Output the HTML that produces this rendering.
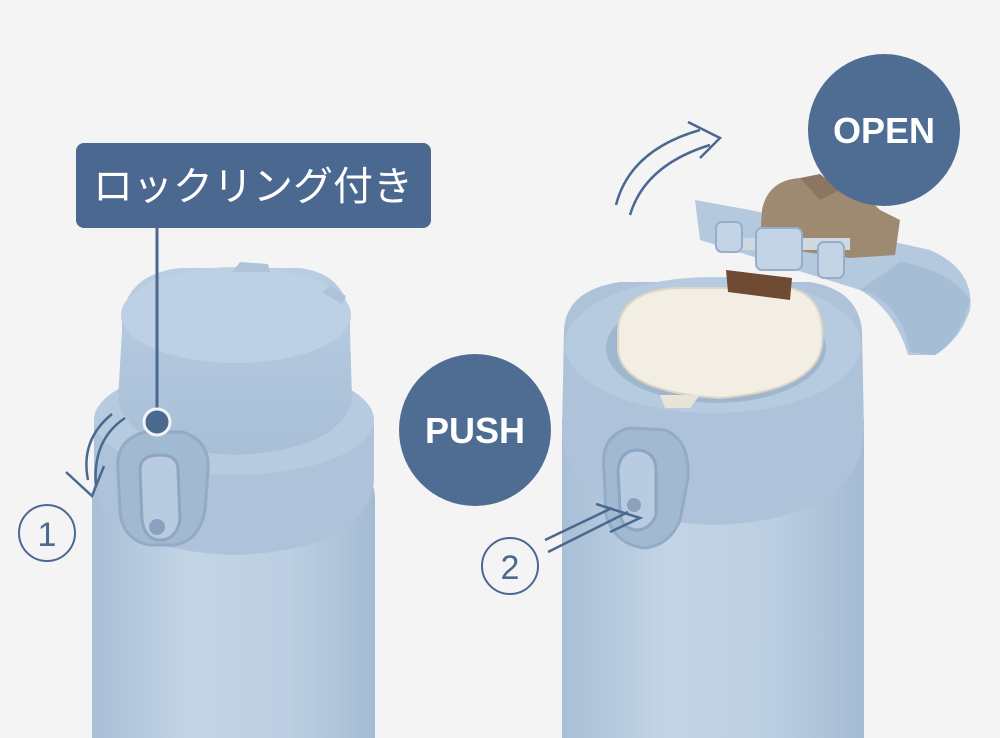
<!DOCTYPE html>
<html><head><meta charset="utf-8"><style>
html,body{margin:0;padding:0;background:#f4f4f4;}
svg{display:block}
</style></head><body>
<svg width="1000" height="738" viewBox="0 0 1000 738" xmlns="http://www.w3.org/2000/svg">
<defs>
<linearGradient id="body" x1="0" x2="1" y1="0" y2="0">
<stop offset="0" stop-color="#a9bfd6"/><stop offset="0.35" stop-color="#c3d4e5"/><stop offset="0.7" stop-color="#bccee1"/><stop offset="1" stop-color="#a4bbd3"/>
</linearGradient>
<linearGradient id="lid" x1="0" x2="0" y1="0" y2="1">
<stop offset="0" stop-color="#b9cde2"/><stop offset="1" stop-color="#a8bfd7"/>
</linearGradient>
</defs>
<rect width="1000" height="738" fill="#f4f4f4"/>

<!-- LEFT BOTTLE -->
<path d="M92 500 Q92 470 120 468 L350 468 Q375 470 375 500 L375 738 L92 738 Z" fill="url(#body)"/>
<path d="M94 420 L94 480 Q100 550 235 555 Q368 550 374 480 L374 420 Z" fill="#aec3da"/>
<ellipse cx="234" cy="420" rx="140" ry="55" fill="#b6cae0"/>
<path d="M122 330 Q120 275 180 268 L300 268 Q352 275 350 330 L352 400 Q340 450 234 455 Q128 450 118 400 Z" fill="url(#lid)"/>
<ellipse cx="236" cy="315" rx="115" ry="48" fill="#bdd0e4"/>
<path d="M232 272 L240 262 L268 264 L270 272 Z" fill="#aec3da"/>
<path d="M322 292 L330 286 L346 296 L342 304 Z" fill="#aec3da"/>
<!-- lock ring -->
<path d="M118 470 Q115 440 145 432 L182 432 Q210 440 208 470 L205 510 Q200 540 175 545 L150 545 Q122 540 120 510 Z" fill="#a2b9d2" stroke="#93abc6" stroke-width="3"/>
<path d="M140 470 Q140 455 160 455 Q178 455 178 470 L180 520 Q176 540 160 540 Q145 540 142 520 Z" fill="#b8cbe0" stroke="#8ea6c2" stroke-width="3"/>
<circle cx="157" cy="527" r="8" fill="#8aa2bf"/>
<!-- label -->
<rect x="76" y="143" width="355" height="85" rx="8" fill="#4a6890"/>
<text x="253" y="200" fill="#fff" font-family="'Liberation Sans','Noto Sans CJK JP',sans-serif" font-size="40" font-weight="normal" text-anchor="middle">ロックリング付き</text>
<line x1="157" y1="228" x2="157" y2="420" stroke="#4a6890" stroke-width="3"/>
<circle cx="157" cy="422" r="13" fill="#4a6890" stroke="#f3f3f3" stroke-width="3"/>
<!-- arrow 1 -->
<path d="M125 418 Q92 440 96 486" fill="none" stroke="#4a6890" stroke-width="2.5"/>
<path d="M112 414 Q80 440 88 480" fill="none" stroke="#4a6890" stroke-width="2.5"/>
<path d="M66 472 L92 496 L104 466" fill="none" stroke="#4a6890" stroke-width="2.5"/>
<circle cx="47" cy="533" r="28" fill="none" stroke="#4a6890" stroke-width="2"/>
<text x="47" y="546" fill="#4a6890" font-family="'Liberation Sans',sans-serif" font-size="34" text-anchor="middle">1</text>

<!-- RIGHT BOTTLE -->
<rect x="562" y="420" width="302" height="318" fill="url(#body)"/>
<path d="M564 330 Q566 290 620 282 L810 282 Q858 290 862 330 L864 430 Q860 520 714 525 Q566 520 562 430 Z" fill="#aec3da"/>
<ellipse cx="713" cy="345" rx="148" ry="68" fill="#b7cbe0"/>
<ellipse cx="716" cy="348" rx="110" ry="55" fill="#9fb6cf"/>
<path d="M618 330 Q620 290 680 288 L790 288 Q826 296 822 345 Q816 390 720 398 Q622 392 618 350 Z" fill="#f3eee3" stroke="#ddd6c6" stroke-width="2"/>
<path d="M660 395 L700 395 L690 408 L665 408 Z" fill="#e9e4d8"/>
<path d="M726 270 L792 278 L790 300 L728 292 Z" fill="#6e4b32"/>
<!-- open lid -->
<path d="M695 200 L750 210 L930 250 Q975 270 970 310 Q960 340 935 355 L908 355 Q895 310 860 290 L700 240 Z" fill="#b4c8de"/>
<path d="M860 290 Q900 300 910 352 L935 355 Q960 340 970 300 Q950 270 900 262 Z" fill="#a6bdd6"/>
<path d="M762 210 Q768 180 800 178 L830 180 Q860 190 880 210 L900 220 L895 255 L850 258 L790 250 L760 240 Z" fill="#9e8a70"/>
<path d="M800 178 L820 174 L840 190 L820 200 Z" fill="#8b7660"/>
<rect x="740" y="238" width="110" height="12" fill="#d0d8e0"/>
<rect x="756" y="228" width="46" height="42" rx="6" fill="#c3d4e6" stroke="#97aecb" stroke-width="2"/>
<rect x="716" y="222" width="26" height="30" rx="6" fill="#c3d4e6" stroke="#97aecb" stroke-width="2"/>
<rect x="818" y="242" width="26" height="36" rx="6" fill="#c3d4e6" stroke="#97aecb" stroke-width="2"/>
<!-- lever -->
<path d="M604 470 Q600 435 630 428 L665 430 Q690 440 688 478 L680 520 Q670 545 645 548 Q615 545 606 515 Z" fill="#a2b9d2" stroke="#93abc6" stroke-width="3"/>
<path d="M618 470 Q620 450 638 450 Q656 452 656 470 L656 515 Q650 530 636 530 Q620 528 620 510 Z" fill="#b8cbe0" stroke="#8ea6c2" stroke-width="3"/>
<circle cx="634" cy="505" r="7" fill="#8aa2bf"/>
<!-- arrow 2 -->
<path d="M548 552 L628 512" fill="none" stroke="#4a6890" stroke-width="2.5"/>
<path d="M545 540 L612 508" fill="none" stroke="#4a6890" stroke-width="2.5"/>
<path d="M596 504 L640 518 L610 532" fill="none" stroke="#4a6890" stroke-width="2.5"/>
<circle cx="510" cy="566" r="28" fill="none" stroke="#4a6890" stroke-width="2"/>
<text x="510" y="579" fill="#4a6890" font-family="'Liberation Sans',sans-serif" font-size="34" text-anchor="middle">2</text>
<!-- open arrow -->
<path d="M616 205 Q630 150 700 130" fill="none" stroke="#4a6890" stroke-width="2.5"/>
<path d="M630 215 Q645 165 710 145" fill="none" stroke="#4a6890" stroke-width="2.5"/>
<path d="M688 122 L720 138 L700 158" fill="none" stroke="#4a6890" stroke-width="2.5"/>

<circle cx="884" cy="130" r="76" fill="#4f6d93"/>
<text x="884" y="143" fill="#fff" font-family="'Liberation Sans',sans-serif" font-size="36" font-weight="bold" text-anchor="middle">OPEN</text>
<circle cx="475" cy="430" r="76" fill="#4f6d93"/>
<text x="475" y="443" fill="#fff" font-family="'Liberation Sans',sans-serif" font-size="36" font-weight="bold" text-anchor="middle">PUSH</text>
</svg>
</body></html>
